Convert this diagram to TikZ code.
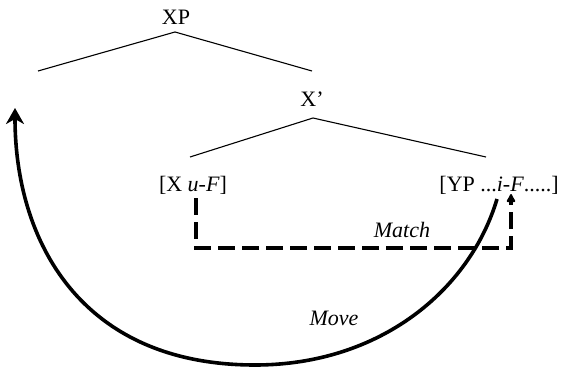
\documentclass[tikz,border=0pt]{standalone}
\usepackage{fontspec}
\setmainfont{Liberation Serif}
\usetikzlibrary{arrows.meta}
\begin{document}
\begin{tikzpicture}[x=1pt,y=-1pt,
  lbl/.style={inner sep=0pt,font=\fontsize{22}{24}\selectfont},
  branch/.style={line width=1.1pt},
  matchline/.style={line width=4.2pt,dash pattern=on 17pt off 7pt,-{Latex[length=10pt,width=11pt,round]}},
  moveline/.style={line width=3.6pt,-{Stealth[length=16pt,width=18pt,inset=5pt]}}]
\useasboundingbox (0,0) rectangle (565,369);
\node[lbl] (xp) at (176,17) {XP};
\node[lbl] (xbar) at (312,99) {X'};
\node[lbl] (xuf) at (193,185) {[X \textit{u-F}]};
\node[lbl] (yp) at (499,185) {[YP ...\textit{i-F}.....]};
\node[lbl] (match) at (402,230) {\textit{Match}};
\node[lbl] (move) at (334,318) {\textit{Move}};
% tree
\coordinate (a1) at (175,32);
\coordinate (l1) at (38,71);
\coordinate (r1) at (312,71);
\coordinate (a2) at (313,118);
\coordinate (l2) at (190,157);
\coordinate (r2) at (486,157);
\draw[branch] (l1) -- (a1) -- (r1);
\draw[branch] (l2) -- (a2) -- (r2);
% match
\coordinate (ms) at (196,198);
\coordinate (me) at (511,194);
\draw[matchline] (ms) -- (196,248) -- (511,248) -- (me);
% move
\coordinate (mvs) at (497,199);
\coordinate (mve) at (15,108);
\draw[moveline] (mvs) .. controls (470,290) and (380,365) .. (255,365)
  .. controls (80,365) and (15,240) .. (mve);
\end{tikzpicture}
\end{document}
